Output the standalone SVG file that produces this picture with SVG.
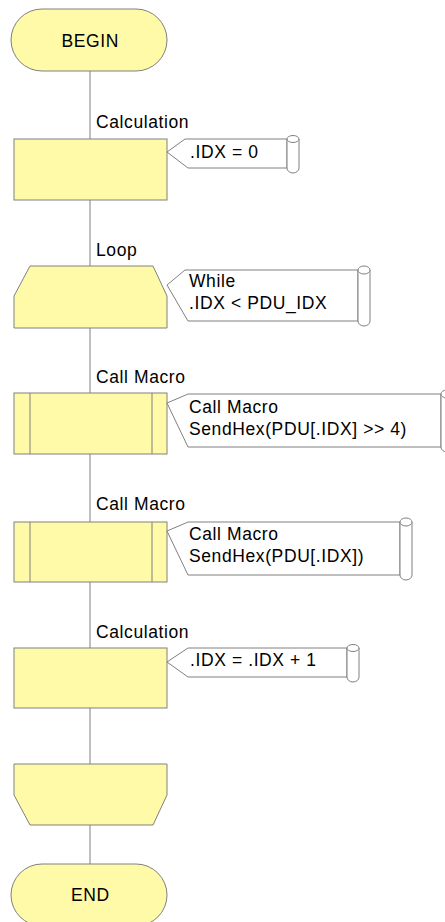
<svg xmlns="http://www.w3.org/2000/svg" width="445" height="922" viewBox="0 0 445 922">
<style>
.s{fill:#FFFAA8;stroke:#808080;stroke-width:1}
.c{fill:#FFFFFF;stroke:#808080;stroke-width:1}
.sc{fill:#FFFFFF;stroke:#808080;stroke-width:1}
.ln{stroke:#808080;stroke-width:1;fill:none}
.t{font-family:"Liberation Sans",Arial,sans-serif;font-size:17.5px;letter-spacing:0.6px;fill:#000000}
.m{text-anchor:middle}
</style>
<rect width="445" height="922" fill="#FFFFFF"/>
<g id="connectors">
<line class="ln" x1="90" y1="71" x2="90" y2="139"/>
<line class="ln" x1="90" y1="200" x2="90" y2="266"/>
<line class="ln" x1="90" y1="328" x2="90" y2="393"/>
<line class="ln" x1="90" y1="454" x2="90" y2="522"/>
<line class="ln" x1="90" y1="582" x2="90" y2="648"/>
<line class="ln" x1="90" y1="708" x2="90" y2="764"/>
<line class="ln" x1="90" y1="825" x2="90" y2="864"/>
</g>
<g id="begin">
<rect class="s" x="11" y="9" width="156" height="62" rx="31" ry="31"/>
<text class="t m" x="90.3" y="47">BEGIN</text>
</g>
<g id="calc1">
<text class="t" x="96" y="128">Calculation</text>
<rect class="s" x="14" y="139" width="153" height="61"/>
<path class="c" d="M167,152 L185,139 H287 V168 H188 Z"/>
<path class="sc" d="M287,139 V168 A6,5 0 0 0 299,168 V139"/>
<ellipse class="sc" cx="293" cy="139" rx="6" ry="3.5"/>
<text class="t" x="190" y="158">.IDX = 0</text>
</g>
<g id="loop">
<text class="t" x="96" y="256">Loop</text>
<path class="s" d="M30,266 H153 L167,296 V328 H14 V296 Z"/>
<path class="c" d="M167,285 L185,270 H358 V321 H188 Z"/>
<path class="sc" d="M358,270 V321 A6,5 0 0 0 370,321 V270"/>
<ellipse class="sc" cx="364" cy="270" rx="6" ry="4"/>
<text class="t" x="189" y="287">While</text>
<text class="t" x="189" y="309">.IDX &lt; PDU_IDX</text>
</g>
<g id="callmacro1">
<text class="t" x="96" y="383">Call Macro</text>
<rect class="s" x="14" y="393" width="153" height="61"/>
<line class="ln" x1="30" y1="393" x2="30" y2="454"/>
<line class="ln" x1="152" y1="393" x2="152" y2="454"/>
<path class="c" d="M167,403 L188,394 H441 V447 H188 Z"/>
<path class="sc" d="M441,394 V447 A6,5 0 0 0 453,447 V394"/>
<ellipse class="sc" cx="447" cy="394" rx="6" ry="4"/>
<text class="t" x="189" y="413">Call Macro</text>
<text class="t" x="189" y="435">SendHex(PDU[.IDX] &gt;&gt; 4)</text>
</g>
<g id="callmacro2">
<text class="t" x="96" y="510">Call Macro</text>
<rect class="s" x="14" y="522" width="153" height="60"/>
<line class="ln" x1="30" y1="522" x2="30" y2="582"/>
<line class="ln" x1="152" y1="522" x2="152" y2="582"/>
<path class="c" d="M167,531 L188,522 H400 V575 H188 Z"/>
<path class="sc" d="M400,522 V575 A6,5 0 0 0 412,575 V522"/>
<ellipse class="sc" cx="406" cy="522" rx="6" ry="4"/>
<text class="t" x="189" y="540">Call Macro</text>
<text class="t" x="189" y="562">SendHex(PDU[.IDX])</text>
</g>
<g id="calc2">
<text class="t" x="96" y="638">Calculation</text>
<rect class="s" x="14" y="648" width="153" height="60"/>
<path class="c" d="M167,662 L188,648 H347 V677 H188 Z"/>
<path class="sc" d="M347,648 V677 A6,5 0 0 0 359,677 V648"/>
<ellipse class="sc" cx="353" cy="648" rx="6" ry="3.5"/>
<text class="t" x="190" y="666">.IDX = .IDX + 1</text>
</g>
<g id="loopend">
<path class="s" d="M14,764 H167 V795 L153,825 H30 L14,795 Z"/>
</g>
<g id="end">
<rect class="s" x="11" y="864" width="156" height="62" rx="31" ry="31"/>
<text class="t m" x="90.3" y="901">END</text>
</g>
</svg>
